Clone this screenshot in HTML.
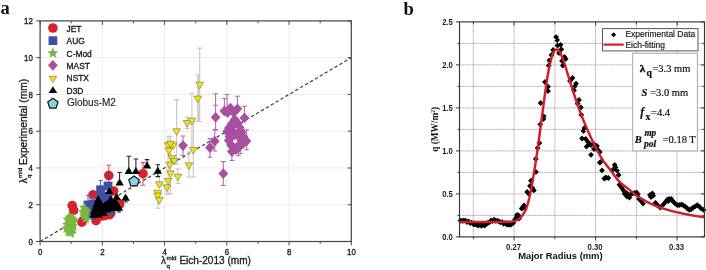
<!DOCTYPE html>
<html><head><meta charset="utf-8"><title>figure</title>
<style>html,body{margin:0;padding:0;background:#fff}svg{display:block;filter:blur(0.55px)}</style></head>
<body><svg width="706" height="270" viewBox="0 0 706 270">
<rect width="706" height="270" fill="#fff"/>
<g id="plotA">
<line x1="102.34" y1="20.90" x2="102.34" y2="241.50" stroke="#ececec" stroke-width="1"/>
<line x1="164.58" y1="20.90" x2="164.58" y2="241.50" stroke="#ececec" stroke-width="1"/>
<line x1="226.82" y1="20.90" x2="226.82" y2="241.50" stroke="#ececec" stroke-width="1"/>
<line x1="289.06" y1="20.90" x2="289.06" y2="241.50" stroke="#ececec" stroke-width="1"/>
<line x1="40.10" y1="204.73" x2="351.30" y2="204.73" stroke="#ececec" stroke-width="1"/>
<line x1="40.10" y1="167.97" x2="351.30" y2="167.97" stroke="#ececec" stroke-width="1"/>
<line x1="40.10" y1="131.20" x2="351.30" y2="131.20" stroke="#ececec" stroke-width="1"/>
<line x1="40.10" y1="94.44" x2="351.30" y2="94.44" stroke="#ececec" stroke-width="1"/>
<line x1="40.10" y1="57.67" x2="351.30" y2="57.67" stroke="#ececec" stroke-width="1"/>
<line x1="40.10" y1="241.50" x2="351.30" y2="57.67" stroke="#3c3c3c" stroke-width="1.2" stroke-dasharray="3.3 2.4"/>
<path d="M108.8 165.3V185.7M106.4 165.3h4.8M106.4 185.7h4.8" stroke="#e0505a" stroke-width="1.05" fill="none"/>
<path d="M143.0 162.6V185.3M140.6 162.6h4.8M140.6 185.3h4.8" stroke="#e0505a" stroke-width="1.05" fill="none"/>
<circle cx="108.8" cy="175.5" r="4.8" fill="#d7222e"/>
<circle cx="143" cy="173.7" r="4.8" fill="#d7222e"/>
<circle cx="93" cy="194.8" r="4.8" fill="#d7222e"/>
<circle cx="72.2" cy="205.6" r="4.8" fill="#d7222e"/>
<circle cx="73.7" cy="210.4" r="4.8" fill="#d7222e"/>
<circle cx="113.7" cy="191" r="4.8" fill="#d7222e"/>
<circle cx="119.6" cy="204.4" r="4.8" fill="#d7222e"/>
<circle cx="109.3" cy="214.8" r="4.8" fill="#d7222e"/>
<circle cx="101" cy="216" r="4.8" fill="#d7222e"/>
<circle cx="81.9" cy="222.2" r="4.8" fill="#d7222e"/>
<circle cx="96" cy="220.7" r="4.8" fill="#d7222e"/>
<circle cx="104" cy="215.8" r="4.8" fill="#d7222e"/>
<circle cx="110.7" cy="213.3" r="4.8" fill="#d7222e"/>
<circle cx="118" cy="203" r="4.8" fill="#d7222e"/>
<path d="M100.6 180.4V189.8M98.6 180.4h4.0M98.6 189.8h4.0" stroke="#5a62c0" stroke-width="1.05" fill="none"/>
<path d="M88.0 195.3V205.0M86.0 195.3h4.0M86.0 205.0h4.0" stroke="#5a62c0" stroke-width="1.05" fill="none"/>
<path d="M93.0 197.0V204.0M91.0 197.0h4.0M91.0 204.0h4.0" stroke="#5a62c0" stroke-width="1.05" fill="none"/>
<rect x="103.6" y="181.6" width="8.8" height="8.8" fill="#3f4fa3"/>
<rect x="96.2" y="185.4" width="8.8" height="8.8" fill="#3f4fa3"/>
<rect x="99.6" y="191.9" width="8.8" height="8.8" fill="#3f4fa3"/>
<rect x="103.6" y="193.6" width="8.8" height="8.8" fill="#3f4fa3"/>
<rect x="96.6" y="193.6" width="8.8" height="8.8" fill="#3f4fa3"/>
<rect x="83.6" y="200.6" width="8.8" height="8.8" fill="#3f4fa3"/>
<rect x="85.1" y="206.6" width="8.8" height="8.8" fill="#3f4fa3"/>
<rect x="87.6" y="210.6" width="8.8" height="8.8" fill="#3f4fa3"/>
<rect x="106.3" y="205.6" width="8.8" height="8.8" fill="#3f4fa3"/>
<rect x="88.6" y="199.6" width="8.8" height="8.8" fill="#3f4fa3"/>
<path d="M108.8 170.5V180" stroke="#5a3fa0" stroke-width="1"/>
<polygon points="68.78,211.03 71.07,214.02 74.82,213.65 72.69,216.75 74.20,220.20 70.59,219.13 67.78,221.64 67.68,217.87 64.42,215.97 67.97,214.71" fill="#79b843"/>
<polygon points="68.00,213.90 69.59,217.32 73.33,217.77 70.57,220.33 71.29,224.03 68.00,222.20 64.71,224.03 65.43,220.33 62.67,217.77 66.41,217.32" fill="#79b843"/>
<polygon points="73.72,213.03 74.53,216.71 78.08,217.97 74.82,219.87 74.72,223.64 71.91,221.13 68.30,222.20 69.81,218.75 67.68,215.65 71.43,216.02" fill="#79b843"/>
<polygon points="66.28,218.53 68.57,221.52 72.32,221.15 70.19,224.25 71.70,227.70 68.09,226.63 65.28,229.14 65.18,225.37 61.92,223.47 65.47,222.21" fill="#79b843"/>
<polygon points="72.50,217.40 74.09,220.82 77.83,221.27 75.07,223.83 75.79,227.53 72.50,225.70 69.21,227.53 69.93,223.83 67.17,221.27 70.91,220.82" fill="#79b843"/>
<polygon points="70.22,222.53 71.03,226.21 74.58,227.47 71.32,229.37 71.22,233.14 68.41,230.63 64.80,231.70 66.31,228.25 64.18,225.15 67.93,225.52" fill="#79b843"/>
<polygon points="70.78,223.53 73.07,226.52 76.82,226.15 74.69,229.25 76.20,232.70 72.59,231.63 69.78,234.14 69.68,230.37 66.42,228.47 69.97,227.21" fill="#79b843"/>
<polygon points="68.50,226.40 70.09,229.82 73.83,230.27 71.07,232.83 71.79,236.53 68.50,234.70 65.21,236.53 65.93,232.83 63.17,230.27 66.91,229.82" fill="#79b843"/>
<polygon points="72.72,227.53 73.53,231.21 77.08,232.47 73.82,234.37 73.72,238.14 70.91,235.63 67.30,236.70 68.81,233.25 66.68,230.15 70.43,230.52" fill="#79b843"/>
<polygon points="68.78,215.53 71.07,218.52 74.82,218.15 72.69,221.25 74.20,224.70 70.59,223.63 67.78,226.14 67.68,222.37 64.42,220.47 67.97,219.21" fill="#79b843"/>
<polygon points="70.00,220.40 71.59,223.82 75.33,224.27 72.57,226.83 73.29,230.53 70.00,228.70 66.71,230.53 67.43,226.83 64.67,224.27 68.41,223.82" fill="#79b843"/>
<polygon points="74.52,215.53 75.33,219.21 78.88,220.47 75.62,222.37 75.52,226.14 72.71,223.63 69.10,224.70 70.61,221.25 68.48,218.15 72.23,218.52" fill="#79b843"/>
<polygon points="71.78,221.03 74.07,224.02 77.82,223.65 75.69,226.75 77.20,230.20 73.59,229.13 70.78,231.64 70.68,227.87 67.42,225.97 70.97,224.71" fill="#79b843"/>
<polygon points="66.80,222.90 68.39,226.32 72.13,226.77 69.37,229.33 70.09,233.03 66.80,231.20 63.51,233.03 64.23,229.33 61.47,226.77 65.21,226.32" fill="#79b843"/>
<polygon points="85.22,202.83 86.03,206.51 89.58,207.77 86.32,209.67 86.22,213.44 83.41,210.93 79.80,212.00 81.31,208.55 79.18,205.45 82.93,205.82" fill="#79b843"/>
<polygon points="84.98,206.53 87.27,209.52 91.02,209.15 88.89,212.25 90.40,215.70 86.79,214.63 83.98,217.14 83.88,213.37 80.62,211.47 84.17,210.21" fill="#79b843"/>
<polygon points="84.30,209.90 85.89,213.32 89.63,213.77 86.87,216.33 87.59,220.03 84.30,218.20 81.01,220.03 81.73,216.33 78.97,213.77 82.71,213.32" fill="#79b843"/>
<polygon points="87.72,213.13 88.53,216.81 92.08,218.07 88.82,219.97 88.72,223.74 85.91,221.23 82.30,222.30 83.81,218.85 81.68,215.75 85.43,216.12" fill="#79b843"/>
<polygon points="83.78,205.53 86.07,208.52 89.82,208.15 87.69,211.25 89.20,214.70 85.59,213.63 82.78,216.14 82.68,212.37 79.42,210.47 82.97,209.21" fill="#79b843"/>
<polygon points="83.60,206.90 85.19,210.32 88.93,210.77 86.17,213.33 86.89,217.03 83.60,215.20 80.31,217.03 81.03,213.33 78.27,210.77 82.01,210.32" fill="#79b843"/>
<path d="M215.6 93.8V129.6M213.2 93.8h4.8M213.2 129.6h4.8" stroke="#b565ad" stroke-width="1.05" fill="none"/>
<path d="M224.4 98.5V111.0M222.0 98.5h4.8M222.0 111.0h4.8" stroke="#b565ad" stroke-width="1.05" fill="none"/>
<path d="M237.4 96.3V108.8M235.0 96.3h4.8M235.0 108.8h4.8" stroke="#b565ad" stroke-width="1.05" fill="none"/>
<path d="M244.4 106.2V117.9M242.0 106.2h4.8M242.0 117.9h4.8" stroke="#b565ad" stroke-width="1.05" fill="none"/>
<path d="M231.9 151.6V160.5M229.5 151.6h4.8M229.5 160.5h4.8" stroke="#b565ad" stroke-width="1.05" fill="none"/>
<path d="M238.5 147.5V155.7M236.1 147.5h4.8M236.1 155.7h4.8" stroke="#b565ad" stroke-width="1.05" fill="none"/>
<path d="M214.8 130.0V151.0M212.4 130.0h4.8M212.4 151.0h4.8" stroke="#b565ad" stroke-width="1.05" fill="none"/>
<path d="M210.0 138.6V157.2M207.6 138.6h4.8M207.6 157.2h4.8" stroke="#b565ad" stroke-width="1.05" fill="none"/>
<path d="M183.0 136.0V155.5M180.6 136.0h4.8M180.6 155.5h4.8" stroke="#b565ad" stroke-width="1.05" fill="none"/>
<path d="M223.3 161.6V185.5M220.9 161.6h4.8M220.9 185.5h4.8" stroke="#b565ad" stroke-width="1.05" fill="none"/>
<path d="M227.1 94.5V110.0M224.7 94.5h4.8M224.7 110.0h4.8" stroke="#b565ad" stroke-width="1.05" fill="none"/>
<path d="M246.7 129.8V149.8M244.3 129.8h4.8M244.3 149.8h4.8" stroke="#b565ad" stroke-width="1.05" fill="none"/>
<path d="M215.6 105.3V105.3M213.2 105.3h4.8M213.2 105.3h4.8" stroke="#b565ad" stroke-width="1.05" fill="none"/>
<path d="M240.3 140.0V153.5M237.9 140.0h4.8M237.9 153.5h4.8" stroke="#b565ad" stroke-width="1.05" fill="none"/>
<polygon points="210.7,117.3 215.6,111.9 220.5,117.3 215.6,122.7" fill="#a8509f"/>
<polygon points="219.5,111 224.4,105.6 229.3,111 224.4,116.4" fill="#a8509f"/>
<polygon points="225.5,108.1 230.4,102.7 235.3,108.1 230.4,113.5" fill="#a8509f"/>
<polygon points="232.5,108.8 237.4,103.4 242.3,108.8 237.4,114.2" fill="#a8509f"/>
<polygon points="239.5,117.9 244.4,112.5 249.3,117.9 244.4,123.3" fill="#a8509f"/>
<polygon points="222.7,112.5 227.6,107.1 232.5,112.5 227.6,117.9" fill="#a8509f"/>
<polygon points="228.7,112.5 233.6,107.1 238.5,112.5 233.6,117.9" fill="#a8509f"/>
<polygon points="229.9,119.6 234.8,114.2 239.7,119.6 234.8,125.0" fill="#a8509f"/>
<polygon points="226.6,124 231.5,118.6 236.4,124 231.5,129.4" fill="#a8509f"/>
<polygon points="232.9,123.5 237.8,118.1 242.7,123.5 237.8,128.9" fill="#a8509f"/>
<polygon points="224.1,128 229,122.6 233.9,128 229,133.4" fill="#a8509f"/>
<polygon points="229.1,128.4 234,123.0 238.9,128.4 234,133.8" fill="#a8509f"/>
<polygon points="234.6,127.5 239.5,122.1 244.4,127.5 239.5,132.9" fill="#a8509f"/>
<polygon points="222.3,131.6 227.2,126.2 232.1,131.6 227.2,137.0" fill="#a8509f"/>
<polygon points="227.1,132.5 232,127.1 236.9,132.5 232,137.9" fill="#a8509f"/>
<polygon points="232.1,132.5 237,127.1 241.9,132.5 237,137.9" fill="#a8509f"/>
<polygon points="236.6,132 241.5,126.6 246.4,132 241.5,137.4" fill="#a8509f"/>
<polygon points="224.6,136.5 229.5,131.1 234.4,136.5 229.5,141.9" fill="#a8509f"/>
<polygon points="229.6,136 234.5,130.6 239.4,136 234.5,141.4" fill="#a8509f"/>
<polygon points="235.1,136.5 240,131.1 244.9,136.5 240,141.9" fill="#a8509f"/>
<polygon points="238.6,137 243.5,131.6 248.4,137 243.5,142.4" fill="#a8509f"/>
<polygon points="223.9,140.5 228.8,135.1 233.7,140.5 228.8,145.9" fill="#a8509f"/>
<polygon points="236.1,140.5 241,135.1 245.9,140.5 241,145.9" fill="#a8509f"/>
<polygon points="241.5,141 246.4,135.6 251.3,141 246.4,146.4" fill="#a8509f"/>
<polygon points="226.1,145 231,139.6 235.9,145 231,150.4" fill="#a8509f"/>
<polygon points="231.3,146.5 236.2,141.1 241.1,146.5 236.2,151.9" fill="#a8509f"/>
<polygon points="235.6,145 240.5,139.6 245.4,145 240.5,150.4" fill="#a8509f"/>
<polygon points="238.1,143.5 243,138.1 247.9,143.5 243,148.9" fill="#a8509f"/>
<polygon points="227.0,151.6 231.9,146.2 236.8,151.6 231.9,157.0" fill="#a8509f"/>
<polygon points="231.1,149.5 236,144.1 240.9,149.5 236,154.9" fill="#a8509f"/>
<polygon points="233.6,147.5 238.5,142.1 243.4,147.5 238.5,152.9" fill="#a8509f"/>
<polygon points="209.9,141.2 214.8,135.8 219.7,141.2 214.8,146.6" fill="#a8509f"/>
<polygon points="205.1,147.6 210,142.2 214.9,147.6 210,153.0" fill="#a8509f"/>
<polygon points="178.1,145.6 183,140.2 187.9,145.6 183,151.0" fill="#a8509f"/>
<polygon points="218.4,173.6 223.3,168.2 228.2,173.6 223.3,179.0" fill="#a8509f"/>
<polygon points="233.1,141.3 235.2,138.9 237.3,141.3 235.2,143.7" fill="#fff"/>
<polygon points="235.4,128.6 236.3,127.6 237.2,128.6 236.3,129.6" fill="#fff"/>
<rect x="197.8" y="75" width="1.9" height="46.5" fill="#d6d6d6"/>
<path d="M199.7 48.1V121.5M197.3 48.1h4.8M197.3 121.5h4.8" stroke="#c4c4c4" stroke-width="1.05" fill="none"/>
<path d="M197.8 74.8V121.5M195.4 74.8h4.8M195.4 121.5h4.8" stroke="#c4c4c4" stroke-width="1.05" fill="none"/>
<path d="M176.6 99.6V164.0M174.2 99.6h4.8M174.2 164.0h4.8" stroke="#c4c4c4" stroke-width="1.05" fill="none"/>
<path d="M187.1 117.0V128.6M184.7 117.0h4.8M184.7 128.6h4.8" stroke="#c4c4c4" stroke-width="1.05" fill="none"/>
<path d="M191.9 93.3V150.0M189.5 93.3h4.8M189.5 150.0h4.8" stroke="#c4c4c4" stroke-width="1.05" fill="none"/>
<path d="M193.3 121.5V177.0M190.9 121.5h4.8M190.9 177.0h4.8" stroke="#c4c4c4" stroke-width="1.05" fill="none"/>
<path d="M188.9 152.0V177.0M186.5 152.0h4.8M186.5 177.0h4.8" stroke="#c4c4c4" stroke-width="1.05" fill="none"/>
<path d="M168.1 136.3V194.0M165.7 136.3h4.8M165.7 194.0h4.8" stroke="#c4c4c4" stroke-width="1.05" fill="none"/>
<path d="M170.4 136.3V194.0M168.0 136.3h4.8M168.0 194.0h4.8" stroke="#c4c4c4" stroke-width="1.05" fill="none"/>
<path d="M177.8 168.9V183.4M175.4 168.9h4.8M175.4 183.4h4.8" stroke="#c4c4c4" stroke-width="1.05" fill="none"/>
<path d="M159.3 176.0V185.0M156.9 176.0h4.8M156.9 185.0h4.8" stroke="#c4c4c4" stroke-width="1.05" fill="none"/>
<path d="M166.7 188.0V194.0M164.3 188.0h4.8M164.3 194.0h4.8" stroke="#c4c4c4" stroke-width="1.05" fill="none"/>
<path d="M157.8 196.3V208.3M155.4 196.3h4.8M155.4 208.3h4.8" stroke="#c4c4c4" stroke-width="1.05" fill="none"/>
<polygon points="195.8,82.2 203.6,82.2 199.7,88.8" fill="#f2e21c" stroke="#6b672c" stroke-width="0.55"/>
<polygon points="193.9,96.1 201.7,96.1 197.8,102.7" fill="#f2e21c" stroke="#6b672c" stroke-width="0.55"/>
<polygon points="172.7,128.8 180.5,128.8 176.6,135.4" fill="#f2e21c" stroke="#6b672c" stroke-width="0.55"/>
<polygon points="183.2,120.5 191.0,120.5 187.1,127.1" fill="#f2e21c" stroke="#6b672c" stroke-width="0.55"/>
<polygon points="188.0,118.2 195.8,118.2 191.9,124.8" fill="#f2e21c" stroke="#6b672c" stroke-width="0.55"/>
<polygon points="189.4,147.4 197.2,147.4 193.3,154.0" fill="#f2e21c" stroke="#6b672c" stroke-width="0.55"/>
<polygon points="185.0,162.8 192.8,162.8 188.9,169.4" fill="#f2e21c" stroke="#6b672c" stroke-width="0.55"/>
<polygon points="164.2,142.8 172.0,142.8 168.1,149.4" fill="#f2e21c" stroke="#6b672c" stroke-width="0.55"/>
<polygon points="169.4,142.8 177.2,142.8 173.3,149.4" fill="#f2e21c" stroke="#6b672c" stroke-width="0.55"/>
<polygon points="166.5,141.3 174.3,141.3 170.4,147.9" fill="#f2e21c" stroke="#6b672c" stroke-width="0.55"/>
<polygon points="165.0,148.0 172.8,148.0 168.9,154.6" fill="#f2e21c" stroke="#6b672c" stroke-width="0.55"/>
<polygon points="168.0,155.4 175.8,155.4 171.9,162.0" fill="#f2e21c" stroke="#6b672c" stroke-width="0.55"/>
<polygon points="170.2,158.4 178.0,158.4 174.1,165.0" fill="#f2e21c" stroke="#6b672c" stroke-width="0.55"/>
<polygon points="165.7,162.1 173.5,162.1 169.6,168.7" fill="#f2e21c" stroke="#6b672c" stroke-width="0.55"/>
<polygon points="166.5,170.8 174.3,170.8 170.4,177.4" fill="#f2e21c" stroke="#6b672c" stroke-width="0.55"/>
<polygon points="173.9,174.2 181.7,174.2 177.8,180.8" fill="#f2e21c" stroke="#6b672c" stroke-width="0.55"/>
<polygon points="164.2,178.5 172.0,178.5 168.1,185.1" fill="#f2e21c" stroke="#6b672c" stroke-width="0.55"/>
<polygon points="155.4,181.8 163.2,181.8 159.3,188.4" fill="#f2e21c" stroke="#6b672c" stroke-width="0.55"/>
<polygon points="162.8,184.8 170.6,184.8 166.7,191.4" fill="#f2e21c" stroke="#6b672c" stroke-width="0.55"/>
<polygon points="153.9,190.2 161.7,190.2 157.8,196.8" fill="#f2e21c" stroke="#6b672c" stroke-width="0.55"/>
<polygon points="153.9,193.1 161.7,193.1 157.8,199.7" fill="#f2e21c" stroke="#6b672c" stroke-width="0.55"/>
<polygon points="155.4,197.6 163.2,197.6 159.3,204.2" fill="#f2e21c" stroke="#6b672c" stroke-width="0.55"/>
<path d="M119.6 172.5V182.1M117.4 172.5h4.4M117.4 182.1h4.4" stroke="#222" stroke-width="1.05" fill="none"/>
<path d="M128.8 156.2V170.6M126.6 156.2h4.4M126.6 170.6h4.4" stroke="#222" stroke-width="1.05" fill="none"/>
<path d="M135.9 158.9V170.6M133.7 158.9h4.4M133.7 170.6h4.4" stroke="#222" stroke-width="1.05" fill="none"/>
<path d="M147.0 159.6V165.2M144.8 159.6h4.4M144.8 165.2h4.4" stroke="#222" stroke-width="1.05" fill="none"/>
<path d="M157.8 164.7V176.6M155.6 164.7h4.4M155.6 176.6h4.4" stroke="#222" stroke-width="1.05" fill="none"/>
<path d="M125.6 197.3V202.0M123.4 197.3h4.4M123.4 202.0h4.4" stroke="#222" stroke-width="1.05" fill="none"/>
<path d="M118.9 207.3V212.0M116.7 207.3h4.4M116.7 212.0h4.4" stroke="#222" stroke-width="1.05" fill="none"/>
<polygon points="115.4,185.5 123.8,185.5 119.6,178.4" fill="#000"/>
<polygon points="124.6,174.0 133.0,174.0 128.8,166.9" fill="#000"/>
<polygon points="131.7,174.0 140.1,174.0 135.9,166.9" fill="#000"/>
<polygon points="142.8,168.6 151.2,168.6 147,161.5" fill="#000"/>
<polygon points="153.6,173.8 162.0,173.8 157.8,166.7" fill="#000"/>
<polygon points="105.1,194.1 113.5,194.1 109.3,187.0" fill="#000"/>
<polygon points="121.4,200.7 129.8,200.7 125.6,193.6" fill="#000"/>
<polygon points="112.5,200.0 120.9,200.0 116.7,192.9" fill="#000"/>
<polygon points="93.9,202.4 102.3,202.4 98.1,195.3" fill="#000"/>
<polygon points="106.5,202.4 114.9,202.4 110.7,195.3" fill="#000"/>
<polygon points="114.7,210.7 123.1,210.7 118.9,203.6" fill="#000"/>
<polygon points="92.6,206.4 101.0,206.4 96.8,199.3" fill="#000"/>
<polygon points="91.3,210.4 99.7,210.4 95.5,203.3" fill="#000"/>
<polygon points="90.1,214.4 98.5,214.4 94.3,207.3" fill="#000"/>
<polygon points="89.4,217.8 97.8,217.8 93.6,210.7" fill="#000"/>
<polygon points="96.8,208.9 105.2,208.9 101,201.8" fill="#000"/>
<polygon points="95.2,209.4 103.6,209.4 99.4,202.3" fill="#000"/>
<polygon points="98.5,209.4 106.9,209.4 102.7,202.3" fill="#000"/>
<polygon points="100.0,210.4 108.4,210.4 104.2,203.3" fill="#000"/>
<polygon points="96.1,210.9 104.5,210.9 100.3,203.8" fill="#000"/>
<polygon points="93.3,211.9 101.7,211.9 97.5,204.8" fill="#000"/>
<polygon points="95.3,214.9 103.7,214.9 99.5,207.8" fill="#000"/>
<polygon points="98.3,213.4 106.7,213.4 102.5,206.3" fill="#000"/>
<polygon points="91.8,214.4 100.2,214.4 96,207.3" fill="#000"/>
<polygon points="97.8,209.9 106.2,209.9 102,202.8" fill="#000"/>
<polygon points="95.8,213.9 104.2,213.9 100,206.8" fill="#000"/>
<polygon points="94.4,217.6 102.8,217.6 98.6,210.5" fill="#000"/>
<polygon points="100.8,208.4 109.2,208.4 105,201.3" fill="#000"/>
<polygon points="101.8,212.4 110.2,212.4 106,205.3" fill="#000"/>
<polygon points="99.3,215.9 107.7,215.9 103.5,208.8" fill="#000"/>
<polygon points="104.8,206.4 113.2,206.4 109,199.3" fill="#000"/>
<polygon points="106.8,210.4 115.2,210.4 111,203.3" fill="#000"/>
<polygon points="109.3,206.4 117.7,206.4 113.5,199.3" fill="#000"/>
<polygon points="110.8,204.4 119.2,204.4 115,197.3" fill="#000"/>
<polygon points="112.8,207.9 121.2,207.9 117,200.8" fill="#000"/>
<polygon points="110.3,210.9 118.7,210.9 114.5,203.8" fill="#000"/>
<polygon points="104.3,209.4 112.7,209.4 108.5,202.3" fill="#000"/>
<polygon points="98.1,197.5 103.8,203.2 110.7,197.5 116,203 121,210.3 106,212.3 100,216.6 91.6,216.6" fill="#000"/>
<polygon points="134.00,175.90 139.23,179.70 137.23,185.85 130.77,185.85 128.77,179.70" fill="#8fd0df" stroke="#111" stroke-width="1.2"/>
<rect x="40.10" y="20.90" width="311.20" height="220.60" fill="none" stroke="#4a4a4a" stroke-width="1.25"/>
<path d="M40.10 241.50v4.0M40.10 20.90v4.0M71.22 241.50v2.4M71.22 20.90v2.4M102.34 241.50v4.0M102.34 20.90v4.0M133.46 241.50v2.4M133.46 20.90v2.4M164.58 241.50v4.0M164.58 20.90v4.0M195.70 241.50v2.4M195.70 20.90v2.4M226.82 241.50v4.0M226.82 20.90v4.0M257.94 241.50v2.4M257.94 20.90v2.4M289.06 241.50v4.0M289.06 20.90v4.0M320.18 241.50v2.4M320.18 20.90v2.4M351.30 241.50v4.0M351.30 20.90v4.0M40.10 241.50h-4M351.30 241.50h-3.6M40.10 204.73h-4M351.30 204.73h-3.6M40.10 167.97h-4M351.30 167.97h-3.6M40.10 131.20h-4M351.30 131.20h-3.6M40.10 94.44h-4M351.30 94.44h-3.6M40.10 57.67h-4M351.30 57.67h-3.6M40.10 20.90h-4M351.30 20.90h-3.6" stroke="#4a4a4a" stroke-width="1" fill="none"/>
<text transform="translate(40.30,254.9) scale(1,1.14)" font-size="7.9" text-anchor="middle" fill="#1c1c1c" stroke="#1c1c1c" stroke-width="0.32" font-family="Liberation Sans, Arial, sans-serif">0</text>
<text transform="translate(102.54,254.9) scale(1,1.14)" font-size="7.9" text-anchor="middle" fill="#1c1c1c" stroke="#1c1c1c" stroke-width="0.32" font-family="Liberation Sans, Arial, sans-serif">2</text>
<text transform="translate(164.78,254.9) scale(1,1.14)" font-size="7.9" text-anchor="middle" fill="#1c1c1c" stroke="#1c1c1c" stroke-width="0.32" font-family="Liberation Sans, Arial, sans-serif">4</text>
<text transform="translate(227.02,254.9) scale(1,1.14)" font-size="7.9" text-anchor="middle" fill="#1c1c1c" stroke="#1c1c1c" stroke-width="0.32" font-family="Liberation Sans, Arial, sans-serif">6</text>
<text transform="translate(289.26,254.9) scale(1,1.14)" font-size="7.9" text-anchor="middle" fill="#1c1c1c" stroke="#1c1c1c" stroke-width="0.32" font-family="Liberation Sans, Arial, sans-serif">8</text>
<text transform="translate(351.50,254.9) scale(1,1.14)" font-size="7.9" text-anchor="middle" fill="#1c1c1c" stroke="#1c1c1c" stroke-width="0.32" font-family="Liberation Sans, Arial, sans-serif">10</text>
<text transform="translate(32.9,244.60) scale(1,1.14)" font-size="7.9" text-anchor="end" fill="#1c1c1c" stroke="#1c1c1c" stroke-width="0.32" font-family="Liberation Sans, Arial, sans-serif">0</text>
<text transform="translate(32.9,207.83) scale(1,1.14)" font-size="7.9" text-anchor="end" fill="#1c1c1c" stroke="#1c1c1c" stroke-width="0.32" font-family="Liberation Sans, Arial, sans-serif">2</text>
<text transform="translate(32.9,171.07) scale(1,1.14)" font-size="7.9" text-anchor="end" fill="#1c1c1c" stroke="#1c1c1c" stroke-width="0.32" font-family="Liberation Sans, Arial, sans-serif">4</text>
<text transform="translate(32.9,134.30) scale(1,1.14)" font-size="7.9" text-anchor="end" fill="#1c1c1c" stroke="#1c1c1c" stroke-width="0.32" font-family="Liberation Sans, Arial, sans-serif">6</text>
<text transform="translate(32.9,97.54) scale(1,1.14)" font-size="7.9" text-anchor="end" fill="#1c1c1c" stroke="#1c1c1c" stroke-width="0.32" font-family="Liberation Sans, Arial, sans-serif">8</text>
<text transform="translate(32.9,60.77) scale(1,1.14)" font-size="7.9" text-anchor="end" fill="#1c1c1c" stroke="#1c1c1c" stroke-width="0.32" font-family="Liberation Sans, Arial, sans-serif">10</text>
<text transform="translate(32.9,24.00) scale(1,1.14)" font-size="7.9" text-anchor="end" fill="#1c1c1c" stroke="#1c1c1c" stroke-width="0.32" font-family="Liberation Sans, Arial, sans-serif">12</text>
<g font-family="Liberation Sans, Arial, sans-serif" fill="#1c1c1c" stroke="#1c1c1c" stroke-width="0.32"><text x="161" y="264.4" font-size="10">λ</text><text x="166.5" y="259.5" font-size="6.2">mid</text><text x="166.5" y="268.2" font-size="6.2">q</text><text x="179.4" y="264.4" font-size="10.05">Eich-2013 (mm)</text></g>
<g font-family="Liberation Sans, Arial, sans-serif" fill="#1c1c1c" stroke="#1c1c1c" stroke-width="0.32" transform="translate(27.2,183.2) rotate(-90)"><text x="0" y="0" font-size="10">λ</text><text x="5.3" y="-5" font-size="6.2">mid</text><text x="5.3" y="3.8" font-size="6.2">q</text><text x="18.2" y="0" font-size="10.2">Experimental (mm)</text></g>
<g font-family="Liberation Sans, Arial, sans-serif" fill="#1c1c1c" stroke="#1c1c1c" stroke-width="0.32" font-size="8.4">
<circle cx="52.9" cy="28" r="4.8" fill="#d7222e" stroke="none"/><text x="66.6" y="31.6">JET</text>
<rect x="48.6" y="36.3" width="8.7" height="8.7" fill="#3f4fa3" stroke="none"/><text x="66.6" y="44">AUG</text>
<polygon points="52.90,47.40 54.43,51.10 58.42,51.41 55.37,54.00 56.31,57.89 52.90,55.80 49.49,57.89 50.43,54.00 47.38,51.41 51.37,51.10" stroke="none" fill="#79b843"/><rect x="64" y="50" width="28.5" height="8.5" fill="#fff" stroke="none"/><text x="66.6" y="56.6">C-Mod</text>
<polygon points="48,65.3 52.9,59.9 57.8,65.3 52.9,70.7" fill="#a8509f" stroke="none"/><text x="66.6" y="68.6">MAST</text>
<polygon points="49,76.3 56.8,76.3 52.9,82.6" fill="#f2e21c" stroke="#6b672c" stroke-width="0.55"/><text x="66.6" y="81.2">NSTX</text>
<polygon points="48.6,93 57.2,93 52.9,86.3" fill="#000" stroke="none"/><rect x="64" y="88" width="20" height="8.5" fill="#fff" stroke="none"/><text x="66.6" y="93.6">D3D</text>
<polygon points="52.90,98.30 58.04,102.03 56.07,108.07 49.73,108.07 47.76,102.03" fill="#8fd0df" stroke="#111" stroke-width="1.2"/><text x="67" y="106.4" font-size="10" stroke-width="0.12">Globus-M2</text>
</g>
<text x="0.6" y="14.4" font-size="18.5" font-weight="bold" fill="#111" font-family="Liberation Serif, Times New Roman, serif">a</text>
</g>
<g id="plotB">
<path d="M473.35 21.9V236.9M514.10 21.9V236.9M554.85 21.9V236.9M595.60 21.9V236.9M636.35 21.9V236.9M677.10 21.9V236.9" stroke="#9c9c9c" stroke-width="0.8" stroke-dasharray="1.3 0.5" fill="none"/>
<path d="M459.5 215.40H704.5M459.5 193.90H704.5M459.5 172.40H704.5M459.5 150.90H704.5M459.5 129.40H704.5M459.5 107.90H704.5M459.5 86.40H704.5M459.5 64.90H704.5M459.5 43.40H704.5" stroke="#9c9c9c" stroke-width="0.8" stroke-dasharray="1.3 0.5" fill="none"/>
<path d="M457.6 220.6L460.5 217.7L463.4 220.6L460.5 223.5ZM459.2 220.8L462.1 217.9L465.0 220.8L462.1 223.7ZM460.8 220.7L463.7 217.8L466.6 220.7L463.7 223.6ZM462.4 220.6L465.3 217.7L468.2 220.6L465.3 223.5ZM464.0 222.0L466.9 219.1L469.8 222.0L466.9 224.9ZM465.6 221.4L468.5 218.5L471.4 221.4L468.5 224.3ZM467.2 223.1L470.1 220.2L473.0 223.1L470.1 226.0ZM468.8 222.7L471.7 219.8L474.6 222.7L471.7 225.6ZM470.4 224.0L473.3 221.1L476.2 224.0L473.3 226.9ZM472.0 224.4L474.9 221.5L477.8 224.4L474.9 227.3ZM473.6 224.7L476.5 221.8L479.4 224.7L476.5 227.6ZM475.2 225.7L478.1 222.8L481.0 225.7L478.1 228.6ZM476.8 224.6L479.7 221.7L482.6 224.6L479.7 227.5ZM478.4 225.8L481.3 222.9L484.2 225.8L481.3 228.7ZM480.0 224.7L482.9 221.8L485.8 224.7L482.9 227.6ZM481.6 225.5L484.5 222.6L487.4 225.5L484.5 228.4ZM483.2 224.3L486.1 221.4L489.0 224.3L486.1 227.2ZM484.8 223.0L487.7 220.1L490.6 223.0L487.7 225.9ZM486.4 222.4L489.3 219.5L492.2 222.4L489.3 225.3ZM488.0 220.6L490.9 217.7L493.8 220.6L490.9 223.5ZM489.6 221.0L492.5 218.1L495.4 221.0L492.5 223.9ZM491.2 219.6L494.1 216.7L497.0 219.6L494.1 222.5ZM492.8 220.9L495.7 218.0L498.6 220.9L495.7 223.8ZM494.4 220.7L497.3 217.8L500.2 220.7L497.3 223.6ZM496.0 221.3L498.9 218.4L501.8 221.3L498.9 224.2ZM497.6 222.3L500.5 219.4L503.4 222.3L500.5 225.2ZM499.2 222.2L502.1 219.3L505.0 222.2L502.1 225.1ZM500.8 223.8L503.7 220.9L506.6 223.8L503.7 226.7ZM502.4 223.1L505.3 220.2L508.2 223.1L505.3 226.0ZM504.0 224.7L506.9 221.8L509.8 224.7L506.9 227.6ZM505.6 224.4L508.5 221.5L511.4 224.4L508.5 227.3ZM507.2 224.8L510.1 221.9L513.0 224.8L510.1 227.7ZM508.8 224.1L511.7 221.2L514.6 224.1L511.7 227.0ZM510.4 222.9L513.3 220.0L516.2 222.9L513.3 225.8ZM513.6 217.5L516.5 214.6L519.4 217.5L516.5 220.4ZM512.1 219.5L515.0 216.6L517.9 219.5L515.0 222.4ZM515.6 215.5L518.5 212.6L521.4 215.5L518.5 218.4ZM516.1 218.5L519.0 215.6L521.9 218.5L519.0 221.4ZM514.1 215.0L517.0 212.1L519.9 215.0L517.0 217.9ZM519.6 207.5L522.5 204.6L525.4 207.5L522.5 210.4ZM521.1 205.5L524.0 202.6L526.9 205.5L524.0 208.4ZM518.9 208.5L521.8 205.6L524.7 208.5L521.8 211.4ZM521.7 207.8L524.6 204.9L527.5 207.8L524.6 210.7ZM524.3 191.9L527.2 189.0L530.1 191.9L527.2 194.8ZM525.6 193.5L528.5 190.6L531.4 193.5L528.5 196.4ZM529.5 188.0L532.4 185.1L535.3 188.0L532.4 190.9ZM528.1 180.7L531.0 177.8L533.9 180.7L531.0 183.6ZM531.0 190.4L533.9 187.5L536.8 190.4L533.9 193.3ZM527.1 186.0L530.0 183.1L532.9 186.0L530.0 188.9ZM533.1 171.9L536.0 169.0L538.9 171.9L536.0 174.8ZM532.9 159.0L535.8 156.1L538.7 159.0L535.8 161.9ZM534.7 148.0L537.6 145.1L540.5 148.0L537.6 150.9ZM536.5 143.0L539.4 140.1L542.3 143.0L539.4 145.9ZM537.4 124.4L540.3 121.5L543.2 124.4L540.3 127.3ZM540.9 116.3L543.8 113.4L546.7 116.3L543.8 119.2ZM540.5 119.0L543.4 116.1L546.3 119.0L543.4 121.9ZM537.7 103.0L540.6 100.1L543.5 103.0L540.6 105.9ZM545.1 91.0L548.0 88.1L550.9 91.0L548.0 93.9ZM545.1 86.7L548.0 83.8L550.9 86.7L548.0 89.6ZM542.1 82.0L545.0 79.1L547.9 82.0L545.0 84.9ZM545.8 65.6L548.7 62.7L551.6 65.6L548.7 68.5ZM546.5 60.4L549.4 57.5L552.3 60.4L549.4 63.3ZM550.2 50.0L553.1 47.1L556.0 50.0L553.1 52.9ZM548.6 55.0L551.5 52.1L554.4 55.0L551.5 57.9ZM553.2 37.1L556.1 34.2L559.0 37.1L556.1 40.0ZM554.2 40.0L557.1 37.1L560.0 40.0L557.1 42.9ZM557.7 44.8L560.6 41.9L563.5 44.8L560.6 47.7ZM554.7 45.6L557.6 42.7L560.5 45.6L557.6 48.5ZM558.4 49.3L561.3 46.4L564.2 49.3L561.3 52.2ZM556.1 53.0L559.0 50.1L561.9 53.0L559.0 55.9ZM562.8 58.9L565.7 56.0L568.6 58.9L565.7 61.8ZM559.1 61.0L562.0 58.1L564.9 61.0L562.0 63.9ZM559.9 65.6L562.8 62.7L565.7 65.6L562.8 68.5ZM561.6 57.0L564.5 54.1L567.4 57.0L564.5 59.9ZM567.1 81.0L570.0 78.1L572.9 81.0L570.0 83.9ZM573.1 83.7L576.0 80.8L578.9 83.7L576.0 86.6ZM571.1 90.4L574.0 87.5L576.9 90.4L574.0 93.3ZM569.6 78.0L572.5 75.1L575.4 78.0L572.5 80.9ZM572.1 86.0L575.0 83.1L577.9 86.0L575.0 88.9ZM576.1 100.0L579.0 97.1L581.9 100.0L579.0 102.9ZM574.7 103.7L577.6 100.8L580.5 103.7L577.6 106.6ZM578.0 107.4L580.9 104.5L583.8 107.4L580.9 110.3ZM578.4 114.8L581.3 111.9L584.2 114.8L581.3 117.7ZM580.6 131.0L583.5 128.1L586.4 131.0L583.5 133.9ZM581.6 128.0L584.5 125.1L587.4 128.0L584.5 130.9ZM579.1 138.5L582.0 135.6L584.9 138.5L582.0 141.4ZM582.8 139.0L585.7 136.1L588.6 139.0L585.7 141.9ZM585.1 142.0L588.0 139.1L590.9 142.0L588.0 144.9ZM583.6 146.7L586.5 143.8L589.4 146.7L586.5 149.6ZM588.1 145.0L591.0 142.1L593.9 145.0L591.0 147.9ZM591.1 144.4L594.0 141.5L596.9 144.4L594.0 147.3ZM594.0 146.0L596.9 143.1L599.8 146.0L596.9 148.9ZM591.1 149.0L594.0 146.1L596.9 149.0L594.0 151.9ZM594.7 149.6L597.6 146.7L600.5 149.6L597.6 152.5ZM588.1 154.8L591.0 151.9L593.9 154.8L591.0 157.7ZM596.9 151.9L599.8 149.0L602.7 151.9L599.8 154.8ZM586.6 144.0L589.5 141.1L592.4 144.0L589.5 146.9ZM597.7 162.0L600.6 159.1L603.5 162.0L600.6 164.9ZM599.1 170.4L602.0 167.5L604.9 170.4L602.0 173.3ZM601.4 178.5L604.3 175.6L607.2 178.5L604.3 181.4ZM596.8 162.6L599.7 159.7L602.6 162.6L599.7 165.5ZM603.1 177.5L606.0 174.6L608.9 177.5L606.0 180.4ZM605.5 178.0L608.4 175.1L611.3 178.0L608.4 180.9ZM611.8 165.0L614.7 162.1L617.6 165.0L614.7 167.9ZM610.1 169.7L613.0 166.8L615.9 169.7L613.0 172.6ZM614.1 170.4L617.0 167.5L619.9 170.4L617.0 173.3ZM615.7 175.0L618.6 172.1L621.5 175.0L618.6 177.9ZM617.1 185.4L620.0 182.5L622.9 185.4L620.0 188.3ZM612.6 167.5L615.5 164.6L618.4 167.5L615.5 170.4ZM616.5 184.7L619.4 181.8L622.3 184.7L619.4 187.6ZM620.4 190.2L623.3 187.3L626.2 190.2L623.3 193.1ZM622.8 195.0L625.7 192.1L628.6 195.0L625.7 197.9ZM625.9 195.7L628.8 192.8L631.7 195.7L628.8 198.6ZM629.8 193.4L632.7 190.5L635.6 193.4L632.7 196.3ZM633.8 192.6L636.7 189.7L639.6 192.6L636.7 195.5ZM636.1 198.9L639.0 196.0L641.9 198.9L639.0 201.8ZM640.1 203.6L643.0 200.7L645.9 203.6L643.0 206.5ZM647.1 195.0L650.0 192.1L652.9 195.0L650.0 197.9ZM650.3 195.7L653.2 192.8L656.1 195.7L653.2 198.6ZM652.6 202.8L655.5 199.9L658.4 202.8L655.5 205.7ZM657.4 207.5L660.3 204.6L663.2 207.5L660.3 210.4ZM660.5 204.4L663.4 201.5L666.3 204.4L663.4 207.3ZM664.4 199.7L667.3 196.8L670.2 199.7L667.3 202.6ZM668.4 198.9L671.3 196.0L674.2 198.9L671.3 201.8ZM670.7 202.0L673.6 199.1L676.5 202.0L673.6 204.9ZM674.6 205.2L677.5 202.3L680.4 205.2L677.5 208.1ZM678.6 204.4L681.5 201.5L684.4 204.4L681.5 207.3ZM682.5 206.7L685.4 203.8L688.3 206.7L685.4 209.6ZM686.4 209.9L689.3 207.0L692.2 209.9L689.3 212.8ZM690.4 207.5L693.3 204.6L696.2 207.5L693.3 210.4ZM694.3 205.2L697.2 202.3L700.1 205.2L697.2 208.1ZM698.1 208.3L701.0 205.4L703.9 208.3L701.0 211.2ZM700.6 209.9L703.5 207.0L706.4 209.9L703.5 212.8ZM618.6 187.5L621.5 184.6L624.4 187.5L621.5 190.4ZM624.1 196.5L627.0 193.6L629.9 196.5L627.0 199.4ZM627.6 194.5L630.5 191.6L633.4 194.5L630.5 197.4ZM631.9 193.0L634.8 190.1L637.7 193.0L634.8 195.9ZM638.1 201.0L641.0 198.1L643.9 201.0L641.0 203.9ZM648.6 194.5L651.5 191.6L654.4 194.5L651.5 197.4ZM654.9 205.5L657.8 202.6L660.7 205.5L657.8 208.4ZM662.6 202.0L665.5 199.1L668.4 202.0L665.5 204.9ZM666.4 199.0L669.3 196.1L672.2 199.0L669.3 201.9ZM672.6 203.8L675.5 200.9L678.4 203.8L675.5 206.7ZM676.6 205.0L679.5 202.1L682.4 205.0L679.5 207.9ZM680.6 205.5L683.5 202.6L686.4 205.5L683.5 208.4ZM684.5 208.5L687.4 205.6L690.3 208.5L687.4 211.4ZM688.4 209.0L691.3 206.1L694.2 209.0L691.3 211.9ZM692.4 206.3L695.3 203.4L698.2 206.3L695.3 209.2ZM696.3 206.5L699.2 203.6L702.1 206.5L699.2 209.4ZM621.6 193.5L624.5 190.6L627.4 193.5L624.5 196.4ZM623.6 193.0L626.5 190.1L629.4 193.0L626.5 195.9ZM626.6 197.5L629.5 194.6L632.4 197.5L629.5 200.4ZM648.1 197.0L651.0 194.1L653.9 197.0L651.0 199.9ZM649.6 193.5L652.5 190.6L655.4 193.5L652.5 196.4ZM634.9 194.5L637.8 191.6L640.7 194.5L637.8 197.4ZM665.6 201.0L668.5 198.1L671.4 201.0L668.5 203.9ZM669.1 200.5L672.0 197.6L674.9 200.5L672.0 203.4Z" fill="#000"/>
<path d="M459.5 221.9 L460.5 221.9 L461.5 221.9 L462.5 221.9 L463.5 221.9 L464.5 221.9 L465.5 221.9 L466.5 221.9 L467.5 221.9 L468.5 221.9 L469.5 221.9 L470.5 221.9 L471.5 221.9 L472.5 221.9 L473.5 221.9 L474.5 221.9 L475.5 221.9 L476.5 221.9 L477.5 221.9 L478.5 221.9 L479.5 221.9 L480.5 221.9 L481.5 221.9 L482.5 221.9 L483.5 221.9 L484.5 221.9 L485.5 221.9 L486.5 221.9 L487.5 221.9 L488.5 221.9 L489.5 221.9 L490.5 221.9 L491.5 221.9 L492.5 221.9 L493.5 221.9 L494.5 221.9 L495.5 221.9 L496.5 221.9 L497.5 221.9 L498.5 221.9 L499.5 221.9 L500.5 221.9 L501.5 221.9 L502.5 221.9 L503.5 221.8 L504.5 221.8 L505.5 221.8 L506.5 221.8 L507.5 221.8 L508.5 221.8 L509.5 221.8 L510.5 221.7 L511.5 221.6 L512.5 221.5 L513.5 221.4 L514.5 221.1 L515.5 220.7 L516.5 220.3 L517.5 219.8 L518.5 219.2 L519.5 218.4 L520.5 217.5 L521.5 216.5 L522.5 215.2 L523.5 213.8 L524.5 212.1 L525.5 210.2 L526.5 207.8 L527.5 204.7 L528.5 201.1 L529.5 197.2 L530.5 192.5 L531.5 187.3 L532.5 181.7 L533.5 175.7 L534.5 169.5 L535.5 163.2 L536.5 156.8 L537.5 149.8 L538.5 142.5 L539.5 135.0 L540.5 127.4 L541.5 120.0 L542.5 112.6 L543.5 105.0 L544.5 97.5 L545.5 90.2 L546.5 83.3 L547.5 76.8 L548.5 71.0 L549.5 66.1 L550.5 61.7 L551.5 58.0 L552.5 54.8 L553.5 52.3 L554.5 50.9 L555.5 49.9 L556.5 49.4 L557.5 49.5 L558.5 50.3 L559.5 51.5 L560.5 53.2 L561.5 55.5 L562.5 58.0 L563.5 60.7 L564.5 63.7 L565.5 66.8 L566.5 70.0 L567.5 73.3 L568.5 76.7 L569.5 80.0 L570.5 83.1 L571.5 86.3 L572.5 89.4 L573.5 92.5 L574.5 95.5 L575.5 98.6 L576.5 101.5 L577.5 104.5 L578.5 107.3 L579.5 110.1 L580.5 112.8 L581.5 115.5 L582.5 118.0 L583.5 120.5 L584.5 122.9 L585.5 125.3 L586.5 127.6 L587.5 129.9 L588.5 132.2 L589.5 134.5 L590.5 136.7 L591.5 138.8 L592.5 141.0 L593.5 143.1 L594.5 145.1 L595.5 147.1 L596.5 149.0 L597.5 150.9 L598.5 152.8 L599.5 154.5 L600.5 156.3 L601.5 157.9 L602.5 159.5 L603.5 161.1 L604.5 162.5 L605.5 163.8 L606.5 165.1 L607.5 166.4 L608.5 167.6 L609.5 168.9 L610.5 170.1 L611.5 171.5 L612.5 172.9 L613.5 174.3 L614.5 175.7 L615.5 177.0 L616.5 178.4 L617.5 179.6 L618.5 180.7 L619.5 181.7 L620.5 182.7 L621.5 183.5 L622.5 184.4 L623.5 185.2 L624.5 186.0 L625.5 186.8 L626.5 187.6 L627.5 188.3 L628.5 189.1 L629.5 189.9 L630.5 190.7 L631.5 191.6 L632.5 192.4 L633.5 193.3 L634.5 194.1 L635.5 194.9 L636.5 195.6 L637.5 196.2 L638.5 196.9 L639.5 197.5 L640.5 198.1 L641.5 198.7 L642.5 199.3 L643.5 199.9 L644.5 200.4 L645.5 201.0 L646.5 201.5 L647.5 202.1 L648.5 202.6 L649.5 203.1 L650.5 203.6 L651.5 204.0 L652.5 204.5 L653.5 204.9 L654.5 205.4 L655.5 205.8 L656.5 206.2 L657.5 206.6 L658.5 206.9 L659.5 207.3 L660.5 207.6 L661.5 208.0 L662.5 208.3 L663.5 208.6 L664.5 208.9 L665.5 209.2 L666.5 209.5 L667.5 209.8 L668.5 210.1 L669.5 210.4 L670.5 210.7 L671.5 210.9 L672.5 211.2 L673.5 211.4 L674.5 211.7 L675.5 211.9 L676.5 212.1 L677.5 212.4 L678.5 212.6 L679.5 212.8 L680.5 213.0 L681.5 213.2 L682.5 213.5 L683.5 213.7 L684.5 213.9 L685.5 214.1 L686.5 214.3 L687.5 214.5 L688.5 214.7 L689.5 214.9 L690.5 215.1 L691.5 215.2 L692.5 215.4 L693.5 215.6 L694.5 215.8 L695.5 215.9 L696.5 216.1 L697.5 216.3 L698.5 216.4 L699.5 216.6 L700.5 216.7 L701.5 216.8 L702.5 217.0 L703.5 217.1 L704.5 217.2" stroke="#cf1f2b" stroke-width="2.45" fill="none" stroke-linejoin="round"/>
<rect x="459.5" y="21.9" width="245.0" height="215.0" fill="none" stroke="#333" stroke-width="1.15"/>
<path d="M473.35 236.9v2.4M473.35 21.9v2.4M514.10 236.9v3.6M514.10 21.9v3.6M554.85 236.9v2.4M554.85 21.9v2.4M595.60 236.9v3.6M595.60 21.9v3.6M636.35 236.9v2.4M636.35 21.9v2.4M677.10 236.9v3.6M677.10 21.9v3.6M459.5 236.90h-3.6M704.5 236.90h-3.6M459.5 215.40h-2.0M704.5 215.40h-2.0M459.5 193.90h-3.6M704.5 193.90h-3.6M459.5 172.40h-2.0M704.5 172.40h-2.0M459.5 150.90h-3.6M704.5 150.90h-3.6M459.5 129.40h-2.0M704.5 129.40h-2.0M459.5 107.90h-3.6M704.5 107.90h-3.6M459.5 86.40h-2.0M704.5 86.40h-2.0M459.5 64.90h-3.6M704.5 64.90h-3.6M459.5 43.40h-2.0M704.5 43.40h-2.0M459.5 21.90h-3.6M704.5 21.90h-3.6" stroke="#333" stroke-width="1" fill="none"/>
<text transform="translate(513.5,249.6) scale(1,1.1)" font-size="7.7" font-weight="bold" text-anchor="middle" fill="#1c1c1c" font-family="Liberation Sans, Arial, sans-serif">0.27</text>
<text transform="translate(595.0,249.6) scale(1,1.1)" font-size="7.7" font-weight="bold" text-anchor="middle" fill="#1c1c1c" font-family="Liberation Sans, Arial, sans-serif">0.30</text>
<text transform="translate(676.5,249.6) scale(1,1.1)" font-size="7.7" font-weight="bold" text-anchor="middle" fill="#1c1c1c" font-family="Liberation Sans, Arial, sans-serif">0.33</text>
<text transform="translate(452.9,239.9) scale(1,1.1)" font-size="7.7" font-weight="bold" text-anchor="end" fill="#1c1c1c" font-family="Liberation Sans, Arial, sans-serif">0.0</text>
<text transform="translate(452.9,196.9) scale(1,1.1)" font-size="7.7" font-weight="bold" text-anchor="end" fill="#1c1c1c" font-family="Liberation Sans, Arial, sans-serif">0.5</text>
<text transform="translate(452.9,153.9) scale(1,1.1)" font-size="7.7" font-weight="bold" text-anchor="end" fill="#1c1c1c" font-family="Liberation Sans, Arial, sans-serif">1.0</text>
<text transform="translate(452.9,110.9) scale(1,1.1)" font-size="7.7" font-weight="bold" text-anchor="end" fill="#1c1c1c" font-family="Liberation Sans, Arial, sans-serif">1.5</text>
<text transform="translate(452.9,67.9) scale(1,1.1)" font-size="7.7" font-weight="bold" text-anchor="end" fill="#1c1c1c" font-family="Liberation Sans, Arial, sans-serif">2.0</text>
<text transform="translate(452.9,24.9) scale(1,1.1)" font-size="7.7" font-weight="bold" text-anchor="end" fill="#1c1c1c" font-family="Liberation Sans, Arial, sans-serif">2.5</text>
<text x="518.2" y="259" font-size="9.4" font-weight="bold" fill="#111" font-family="Liberation Sans, Arial, sans-serif">Major Radius (mm)</text>
<g transform="translate(438,151.8) rotate(-90)"><text x="0" y="0" font-size="9.3" font-weight="bold" fill="#111" font-family="Liberation Serif, Times New Roman, serif">q (MW/m<tspan font-size="5.5" dy="-3.4">2</tspan><tspan dy="3.4">)</tspan></text></g>
<rect x="602.5" y="28.6" width="95.5" height="22.3" fill="#fff" stroke="#555" stroke-width="1"/>
<path d="M611.1 34.8L613.6 32.3L616.1 34.8L613.6 37.3Z" fill="#000"/>
<text x="625.4" y="37.2" font-size="8.5" fill="#111" stroke="#111" stroke-width="0.15" font-family="Liberation Sans, Arial, sans-serif">Experimental Data</text>
<path d="M603.5 44.6H623.7" stroke="#cf1f2b" stroke-width="2.2"/>
<text x="625.4" y="47.7" font-size="8.5" fill="#111" stroke="#111" stroke-width="0.15" font-family="Liberation Sans, Arial, sans-serif">Eich-fitting</text>
<rect x="632.7" y="53.3" width="64.7" height="97.6" fill="#fff" stroke="#a8a8a8" stroke-width="1"/>
<g font-family="Liberation Serif, Times New Roman, serif" fill="#111" stroke="#111" stroke-width="0.2" font-size="10.5">
<text x="639.8" y="71.5" font-weight="bold" font-size="11.3" stroke-width="0.5">λ</text><text x="646.4" y="75.6" font-weight="bold" font-size="9.8">q</text><text x="652.4" y="71.5">=3.3 mm</text>
<text x="641.6" y="96.3" font-weight="bold" font-style="italic">S</text><text x="650.2" y="96.3">=3.0 mm</text>
<text x="640.2" y="116.2" font-weight="bold" font-style="italic" font-size="11.6">f</text><text x="645.4" y="119.9" font-weight="bold" font-size="9.8">x</text><text x="651" y="116.2">=4.4</text>
<text x="634.8" y="142.8" font-weight="bold" font-style="italic">B</text><text x="644.4" y="136.1" font-weight="bold" font-style="italic" font-size="9.3">mp</text><text x="644" y="147.2" font-weight="bold" font-style="italic" font-size="9.6">pol</text><text x="662.6" y="142.8">=0.18 T</text>
</g>
<text x="403.4" y="14.6" font-size="18.5" font-weight="bold" fill="#111" font-family="Liberation Serif, Times New Roman, serif">b</text>
</g>
</svg></body></html>
